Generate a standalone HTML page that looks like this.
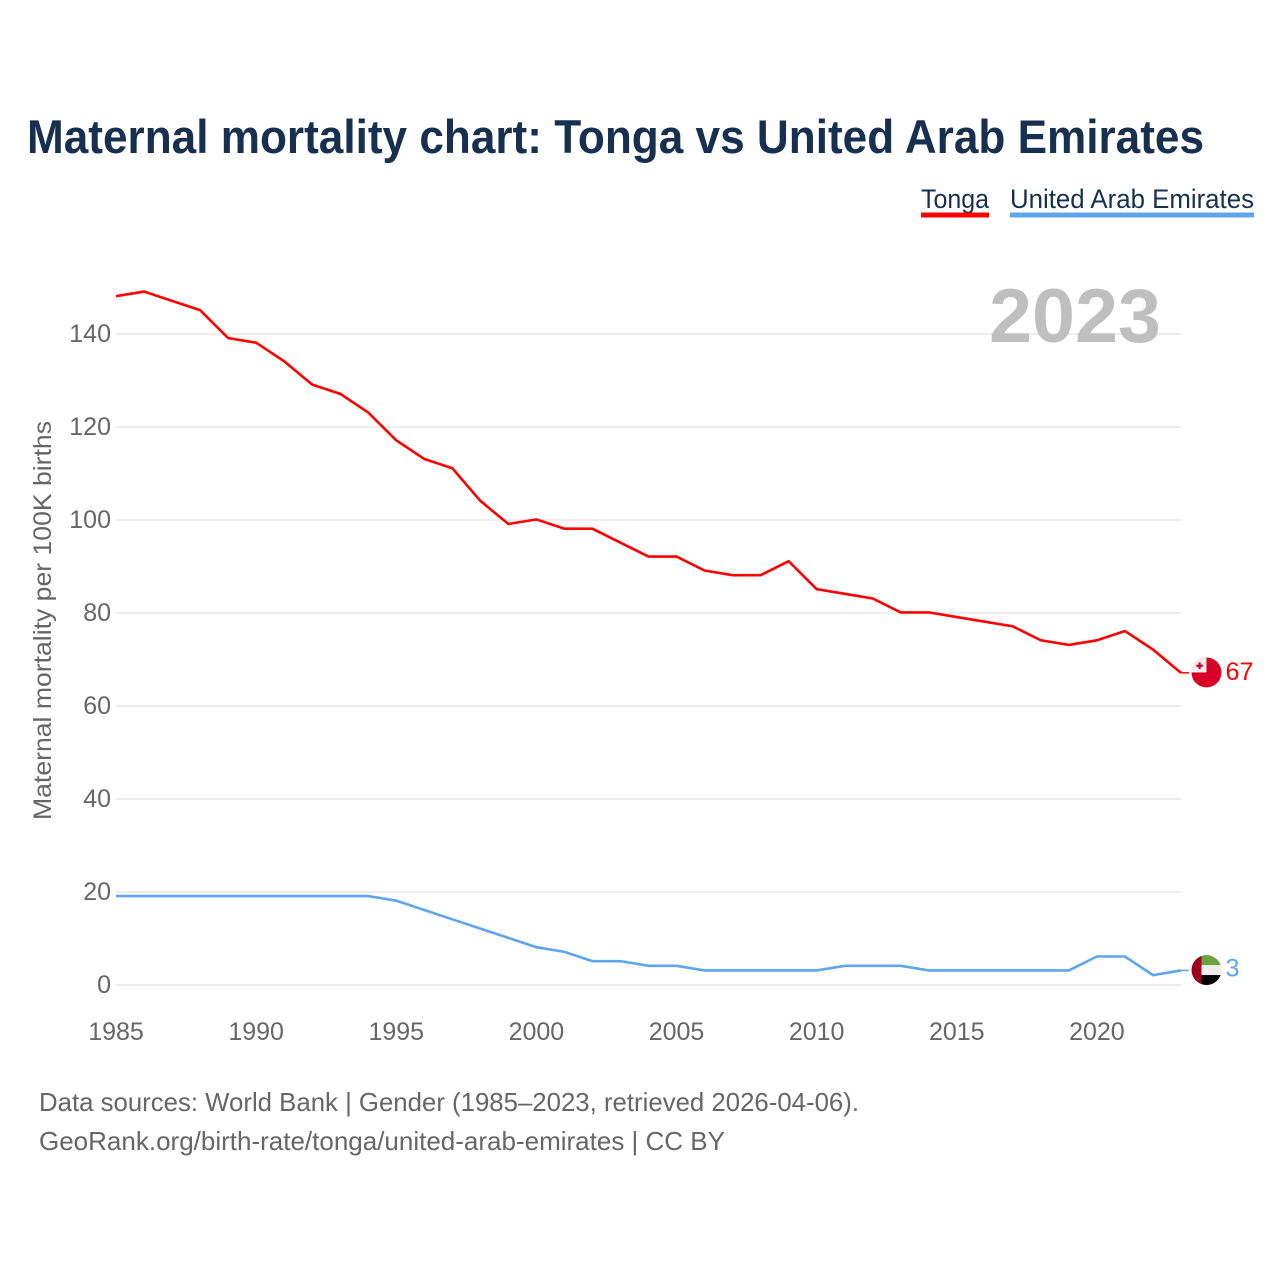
<!DOCTYPE html>
<html lang="en">
<head>
<meta charset="utf-8">
<title>Maternal mortality chart: Tonga vs United Arab Emirates</title>
<style>
html,body{margin:0;padding:0;background:#fff;}
svg{display:block;font-family:"Liberation Sans",sans-serif;}
</style>
</head>
<body>
<svg id="chart" xmlns="http://www.w3.org/2000/svg" width="1280" height="1280" viewBox="0 0 1280 1280">
  <defs>
    <clipPath id="flag-clip"><circle cx="0" cy="0" r="15"></circle></clipPath>
  </defs>
  <rect x="0" y="0" width="1280" height="1280" fill="#fff"></rect>
  <text x="27" y="153" font-size="47" font-weight="700" fill="#17304f" textLength="1177" lengthAdjust="spacingAndGlyphs">Maternal mortality chart: Tonga vs United Arab Emirates</text>

  <g>
    <g>
      <text x="921" y="208" font-size="27" fill="#17304f" textLength="68" lengthAdjust="spacingAndGlyphs">Tonga</text>
      <rect x="921" y="212.5" width="68" height="5" fill="#ff0000"></rect>
    </g>
    <g>
      <text x="1010" y="208" font-size="27" fill="#17304f" textLength="244" lengthAdjust="spacingAndGlyphs">United Arab Emirates</text>
      <rect x="1010" y="212.5" width="244" height="5" fill="#5fa5ec"></rect>
    </g>
  </g>

  <g id="grid"></g>
  <g id="y-ticks"></g>
  <g id="x-ticks"></g>

  <text x="989" y="342" font-size="76" font-weight="700" fill="#bfbfbf" textLength="172" lengthAdjust="spacingAndGlyphs">2023</text>

  <text transform="translate(51,820) rotate(-90)" x="0" y="0" font-size="25" fill="#666" textLength="399" lengthAdjust="spacingAndGlyphs">Maternal mortality per 100K births</text>

  <g id="series"></g>

  <g id="flag-tonga">
    <g clip-path="url(#flag-clip)">
      <rect x="-15" y="-15" width="30" height="30" fill="#d90028"></rect>
      <rect x="-15" y="-15" width="15" height="15" fill="#eeeeee"></rect>
      <rect x="-8" y="-10" width="2.2" height="6.6" fill="#d90028"></rect>
      <rect x="-10.2" y="-7.8" width="6.6" height="2.2" fill="#d90028"></rect>
    </g>
  </g>
  <g id="flag-uae">
    <g clip-path="url(#flag-clip)">
      <rect x="-5" y="-15" width="20" height="10" fill="#6ca43c"></rect>
      <rect x="-5" y="-5" width="20" height="10" fill="#eeeeee"></rect>
      <rect x="-5" y="5" width="20" height="10" fill="#000000"></rect>
      <rect x="-15" y="-15" width="10" height="30" fill="#a0001f"></rect>
    </g>
  </g>
  <text id="label-tonga" x="1225.5" font-size="25" fill="#ff0000" textLength="28" lengthAdjust="spacingAndGlyphs"></text>
  <text id="label-uae" x="1225.5" font-size="25" fill="#5fa5ec" textLength="14" lengthAdjust="spacingAndGlyphs"></text>

  <text x="39" y="1111" font-size="26" fill="#666" textLength="820" lengthAdjust="spacingAndGlyphs">Data sources: World Bank | Gender (1985–2023, retrieved 2026-04-06).</text>
  <text x="39" y="1150" font-size="26" fill="#666" textLength="686" lengthAdjust="spacingAndGlyphs">GeoRank.org/birth-rate/tonga/united-arab-emirates | CC BY</text>
</svg>
<script>
const years = [1985,1986,1987,1988,1989,1990,1991,1992,1993,1994,1995,1996,1997,1998,1999,2000,2001,2002,2003,2004,2005,2006,2007,2008,2009,2010,2011,2012,2013,2014,2015,2016,2017,2018,2019,2020,2021,2022,2023];
const tongaValues = [148,149,147,145,139,138,134,129,127,123,117,113,111,104,99,100,98,98,95,92,92,89,88,88,91,85,84,83,80,80,79,78,77,74,73,74,76,72,67];
const uaeValues = [19,19,19,19,19,19,19,19,19,19,18,16,14,12,10,8,7,5,5,4,4,3,3,3,3,3,4,4,4,3,3,3,3,3,3,6,6,2,3];
const yTickValues = [0,20,40,60,80,100,120,140];
const xTickValues = [1985,1990,1995,2000,2005,2010,2015,2020];

const NS = 'http://www.w3.org/2000/svg';
const plotLeft = 116, plotRight = 1181, plotBottom = 985, plotTop = 334;
const lineOffset = -0.6;
function xScale(year) {
  return plotLeft + (year - 1985) * (plotRight - plotLeft) / (2023 - 1985);
}
function yScale(value) {
  return plotBottom - value * (plotBottom - plotTop) / 140;
}

const gridGroup = document.getElementById('grid');
const yTickGroup = document.getElementById('y-ticks');
yTickValues.forEach(function (v) {
  const line = document.createElementNS(NS, 'line');
  
  
  line.setAttribute('x1', plotLeft);
  line.setAttribute('x2', plotRight);
  line.setAttribute('y1', yScale(v));
  line.setAttribute('y2', yScale(v));
  line.setAttribute('stroke', '#eeeeee');
  line.setAttribute('stroke-width', '2');
  gridGroup.appendChild(line);

  const label = document.createElementNS(NS, 'text');
  
  
  label.setAttribute('x', 111);
  label.setAttribute('y', yScale(v) + 8);
  label.setAttribute('text-anchor', 'end');
  label.setAttribute('font-size', '25');
  label.setAttribute('fill', '#666');
  label.textContent = v;
  yTickGroup.appendChild(label);
});

const xTickGroup = document.getElementById('x-ticks');
xTickValues.forEach(function (y) {
  const label = document.createElementNS(NS, 'text');
  
  
  label.setAttribute('x', xScale(y));
  label.setAttribute('y', 1040);
  label.setAttribute('text-anchor', 'middle');
  label.setAttribute('font-size', '25');
  label.setAttribute('fill', '#666');
  label.textContent = y;
  xTickGroup.appendChild(label);
});

function linePoints(values) {
  return values.map(function (v, i) {
    return xScale(years[i]).toFixed(2) + ',' + (yScale(v) + lineOffset).toFixed(2);
  }).join(' ');
}

const seriesGroup = document.getElementById('series');

const tongaLine = document.createElementNS(NS, 'polyline');


tongaLine.setAttribute('points', linePoints(tongaValues));
tongaLine.setAttribute('fill', 'none');
tongaLine.setAttribute('stroke', '#ff0000');
tongaLine.setAttribute('stroke-width', '2.6');
seriesGroup.appendChild(tongaLine);

const uaeLine = document.createElementNS(NS, 'polyline');


uaeLine.setAttribute('points', linePoints(uaeValues));
uaeLine.setAttribute('fill', 'none');
uaeLine.setAttribute('stroke', '#5fa5ec');
uaeLine.setAttribute('stroke-width', '2.6');
seriesGroup.appendChild(uaeLine);

const tongaLast = tongaValues[tongaValues.length - 1];
const uaeLast = uaeValues[uaeValues.length - 1];

const tongaLeader = document.createElementNS(NS, 'line');


tongaLeader.setAttribute('x1', plotRight);
tongaLeader.setAttribute('x2', plotRight + 8);
tongaLeader.setAttribute('y1', yScale(tongaLast) + lineOffset);
tongaLeader.setAttribute('y2', yScale(tongaLast) + lineOffset);
tongaLeader.setAttribute('stroke', '#ff0000');
tongaLeader.setAttribute('stroke-width', '1.5');
seriesGroup.appendChild(tongaLeader);

const uaeLeader = document.createElementNS(NS, 'line');


uaeLeader.setAttribute('x1', plotRight);
uaeLeader.setAttribute('x2', plotRight + 8);
uaeLeader.setAttribute('y1', yScale(uaeLast) + lineOffset);
uaeLeader.setAttribute('y2', yScale(uaeLast) + lineOffset);
uaeLeader.setAttribute('stroke', '#5fa5ec');
uaeLeader.setAttribute('stroke-width', '1.5');
seriesGroup.appendChild(uaeLeader);

document.getElementById('flag-tonga').setAttribute('transform', 'translate(1206.5,' + (yScale(tongaLast) - 1) + ')');
document.getElementById('flag-uae').setAttribute('transform', 'translate(1206.5,' + (yScale(uaeLast) - 1) + ')');

const tongaLabel = document.getElementById('label-tonga');
tongaLabel.setAttribute('y', yScale(tongaLast) + 6.5);
tongaLabel.textContent = tongaLast;

const uaeLabel = document.getElementById('label-uae');
uaeLabel.setAttribute('y', yScale(uaeLast) + 5.5);
uaeLabel.textContent = uaeLast;
</script>
</body>
</html>
